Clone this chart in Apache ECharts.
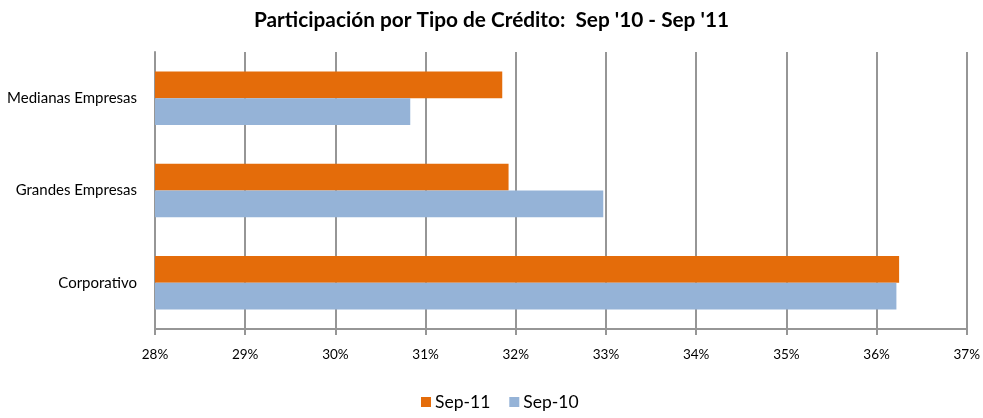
<!DOCTYPE html>
<html>
<head>
<meta charset="utf-8">
<script src="https://cdn.jsdelivr.net/npm/echarts@6/dist/echarts.min.js"></script>
<style>
  html, body { margin: 0; padding: 0; background: #fff; }
  #chart { width: 983px; height: 418px; }
</style>
</head>
<body>
<div id="chart"></div>
<script>
// categories bottom -> top
const categories = ['Corporativo', 'Grandes Empresas', 'Medianas Empresas']
const sep11 = [36.25, 31.92, 31.85]
const sep10 = [36.22, 32.97, 30.83]
const seriesNames = ['Sep-11', 'Sep-10']

const gridColor = '#969696'
const font = 'Lato, "Open Sans", sans-serif'

const myChart = echarts.init(document.getElementById('chart'))
const option = {
  animation: false,
  title: {
    text: "Participación por Tipo de Crédito:  Sep '10 - Sep '11",
    left: 'center',
    top: 5,
    textStyle: { fontFamily: font, fontSize: 20.8, fontWeight: 'bold', color: '#000' }
  },
  legend: {
    data: seriesNames,
    bottom: 2,
    left: 416,
    itemWidth: 10,
    itemHeight: 10,
    itemGap: 19,
    icon: 'rect',
    textStyle: { fontFamily: font, fontSize: 17.5, color: '#000', padding: [0, 0, 0, -1] }
  },
  grid: { left: 155, right: 16, top: 52, bottom: 89 },
  xAxis: {
    type: 'value',
    min: 28,
    max: 37,
    interval: 1,
    axisLine: { show: true, lineStyle: { color: gridColor, width: 2 } },
    axisTick: { show: true, length: 6, lineStyle: { color: gridColor, width: 2 } },
    splitLine: { show: true, lineStyle: { color: gridColor, width: 2 } },
    axisLabel: {
      margin: 19,
      fontFamily: font,
      fontSize: 13.5,
      color: '#000',
      formatter: v => v + '%'
    }
  },
  yAxis: {
    type: 'category',
    data: categories,
    axisLine: { show: true, lineStyle: { color: gridColor, width: 2 } },
    axisTick: { show: false },
    axisLabel: { margin: 18, fontFamily: font, fontSize: 15, color: '#000' }
  },
  series: [
    {
      name: seriesNames[0],
      type: 'bar',
      data: sep11,
      barGap: '0%',
      barCategoryGap: '42%',
      itemStyle: { color: '#E46C0A' }
    },
    {
      name: seriesNames[1],
      type: 'bar',
      data: sep10,
      barGap: '0%',
      barCategoryGap: '42%',
      itemStyle: { color: '#95B3D7' }
    }
  ]
}
myChart.setOption(option)
</script>
</body>
</html>
